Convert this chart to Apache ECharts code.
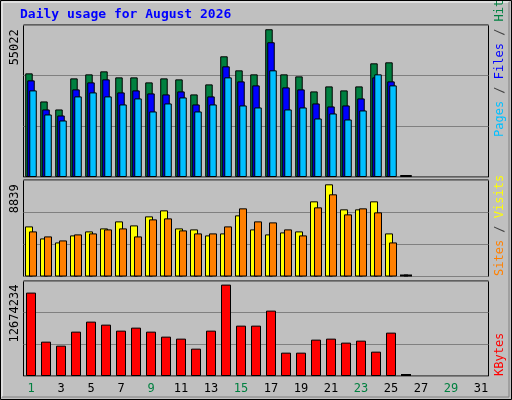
<!DOCTYPE html>
<html><head><meta charset="utf-8">
<script src="https://cdn.jsdelivr.net/npm/echarts@6/dist/echarts.min.js"></script>
<style>html,body{margin:0;padding:0;background:#c0c0c0}#c{width:512px;height:400px}</style>
</head><body><div id="c"></div>
<script>
const days = Array.from({length:31},(_,i)=>String(i+1));
const weekendDays = [1,2,8,9,15,16,22,23,29,30];
const hits  = [38595,28137,25149,36728,38222,39342,37101,37101,35234,36728,36354,30752,34487,44945,39716,38222,55022,38222,37475,31872,33740,32246,33740,42330,42704,0];
const files = [35981,25149,22908,32619,35234,36354,31499,32246,31125,30752,31872,27017,30005,41210,35607,34113,50174,33366,32619,27390,26270,26643,29258,37101,35607,0];
const pages = [32246,23282,21041,30005,31499,30005,27017,29258,24402,27390,29631,24402,27017,37101,26643,25896,39716,25149,25896,21788,23655,21414,24776,38222,34113,0];
const visits = [4804,3651,3267,3940,4324,4612,5285,4900,5765,6342,4612,4516,3940,4132,5861,4516,4036,4228,4324,7207,8839,6438,6438,7207,4132,0];
const sites  = [4324,3844,3459,4036,4132,4516,4612,3844,5477,5573,4420,4132,4132,4804,6534,5285,5189,4516,3940,6630,7879,5957,6534,6150,3267,0];
const kbytes = [11564000,4764000,4209000,6152000,7540000,7123000,6291000,6707000,6152000,5458000,5181000,3793000,6291000,12674234,6985000,6985000,9066000,3238000,3238000,5042000,5181000,4626000,4903000,3377000,6013000,0];

const maxHits = Math.max(...hits), maxVisits = Math.max(...visits), maxKB = Math.max(...kbytes);
const font = 'DejaVu Sans Mono';
function pad(a){return a.map(v=>v===0?{value:0,itemStyle:{color:'#000',borderWidth:0}}:v);}
const grids = [
  {left:23.5,width:465,top:25,height:152},
  {left:23.5,width:465,top:180,height:96.5},
  {left:23.5,width:465,top:281,height:95}
];
const tops = [56600, 9252, 13173000];
const chart = echarts.init(document.getElementById('c'));
const xAxes = grids.map((g,i)=>({type:'category',gridIndex:i,data:days,boundaryGap:true,
  axisLine:{show:false},axisTick:{show:false},
  axisLabel:{show:i===2,fontFamily:font,fontSize:12,margin:7,
    color:(v)=>weekendDays.includes(+v)?'#008040':'#000',
    formatter:v=>v}}));
const yAxes = tops.map((m,i)=>({type:'value',gridIndex:i,min:0,max:m,interval:m/3,
  axisLabel:{show:false},axisLine:{show:false},axisTick:{show:false},
  splitLine:{lineStyle:{color:'#808080',width:1}}}));
const bs = {borderColor:'#000',borderWidth:1};
chart.setOption({
  animation:false,
  backgroundColor:'#c0c0c0',
  grid:grids.map(g=>Object.assign({show:true,borderColor:'#000',borderWidth:1,backgroundColor:'transparent'},g)),
  xAxis:xAxes, yAxis:yAxes,
  series:[
    {type:'bar',name:'Hits',xAxisIndex:0,yAxisIndex:0,data:pad(hits),barWidth:7.5,barGap:'-73%',barMinHeight:2,itemStyle:Object.assign({color:'#008040'},bs)},
    {type:'bar',name:'Files',xAxisIndex:0,yAxisIndex:0,data:pad(files),barWidth:7.5,barGap:'-73%',barMinHeight:2,itemStyle:Object.assign({color:'#0000ff'},bs)},
    {type:'bar',name:'Pages',xAxisIndex:0,yAxisIndex:0,data:pad(pages),barWidth:7.5,barGap:'-73%',barMinHeight:2,itemStyle:Object.assign({color:'#00c0ff'},bs)},
    {type:'bar',name:'Visits',xAxisIndex:1,yAxisIndex:1,data:pad(visits),barWidth:8,barGap:'-50%',barMinHeight:2,itemStyle:Object.assign({color:'#ffff00'},bs)},
    {type:'bar',name:'Sites',xAxisIndex:1,yAxisIndex:1,data:pad(sites),barWidth:8,barGap:'-50%',barMinHeight:2,itemStyle:Object.assign({color:'#ff8000'},bs)},
    {type:'bar',name:'KBytes',xAxisIndex:2,yAxisIndex:2,data:pad(kbytes),barWidth:10,barMinHeight:2,itemStyle:Object.assign({color:'#ff0000'},bs)}
  ]
});
function yPix(i,v){return chart.convertToPixel({yAxisIndex:i},v);}
const rt = (x,y,rich,text)=>({type:'text',x:x,y:y,rotation:Math.PI/2,
  style:{text:text,rich:rich,font:'12px '+font,align:'right',verticalAlign:'middle'}});
const rich = {g:{fill:'#008040',fontFamily:font,fontSize:12},b:{fill:'#0000ff',fontFamily:font,fontSize:12},
  c:{fill:'#00c0ff',fontFamily:font,fontSize:12},k:{fill:'#404040',fontFamily:font,fontSize:12},
  y:{fill:'#ffff00',fontFamily:font,fontSize:12},o:{fill:'#ff8000',fontFamily:font,fontSize:12},
  r:{fill:'#ff0000',fontFamily:font,fontSize:12}};
chart.setOption({graphic:[
  {type:'rect',shape:{x:0.5,y:0.5,width:511,height:399},style:{fill:'none',stroke:'#000',lineWidth:1}},
  {type:'polyline',shape:{points:[[2,397],[2,2],[509,2]]},style:{stroke:'#fff',lineWidth:1,fill:null}},
  {type:'polyline',shape:{points:[[2,397],[509,397],[509,2]]},style:{stroke:'#808080',lineWidth:1,fill:null}},
  {type:'text',x:20,y:15,style:{text:'Daily usage for August 2026',font:'bold 13px '+font,fill:'#0000ff',verticalAlign:'middle'}},
  {type:'text',x:15,y:yPix(0,maxHits),rotation:Math.PI/2,style:{text:String(maxHits),font:'12px '+font,fill:'#000',align:'right',verticalAlign:'middle'}},
  {type:'text',x:15,y:yPix(1,maxVisits),rotation:Math.PI/2,style:{text:String(maxVisits),font:'12px '+font,fill:'#000',align:'right',verticalAlign:'middle'}},
  {type:'text',x:15,y:yPix(2,maxKB),rotation:Math.PI/2,style:{text:String(maxKB),font:'12px '+font,fill:'#000',align:'right',verticalAlign:'middle'}},
  {type:'text',x:500,y:137,rotation:Math.PI/2,style:{text:'{c|Pages}{k| / }{b|Files}{k| / }{g|Hits}',rich:rich,font:'12px '+font,align:'left',verticalAlign:'middle'}},
  {type:'text',x:500,y:276,rotation:Math.PI/2,style:{text:'{o|Sites}{k| / }{y|Visits}',rich:rich,font:'12px '+font,align:'left',verticalAlign:'middle'}},
  {type:'text',x:500,y:376,rotation:Math.PI/2,style:{text:'{r|KBytes}',rich:rich,font:'12px '+font,align:'left',verticalAlign:'middle'}}
]});
</script></body></html>
